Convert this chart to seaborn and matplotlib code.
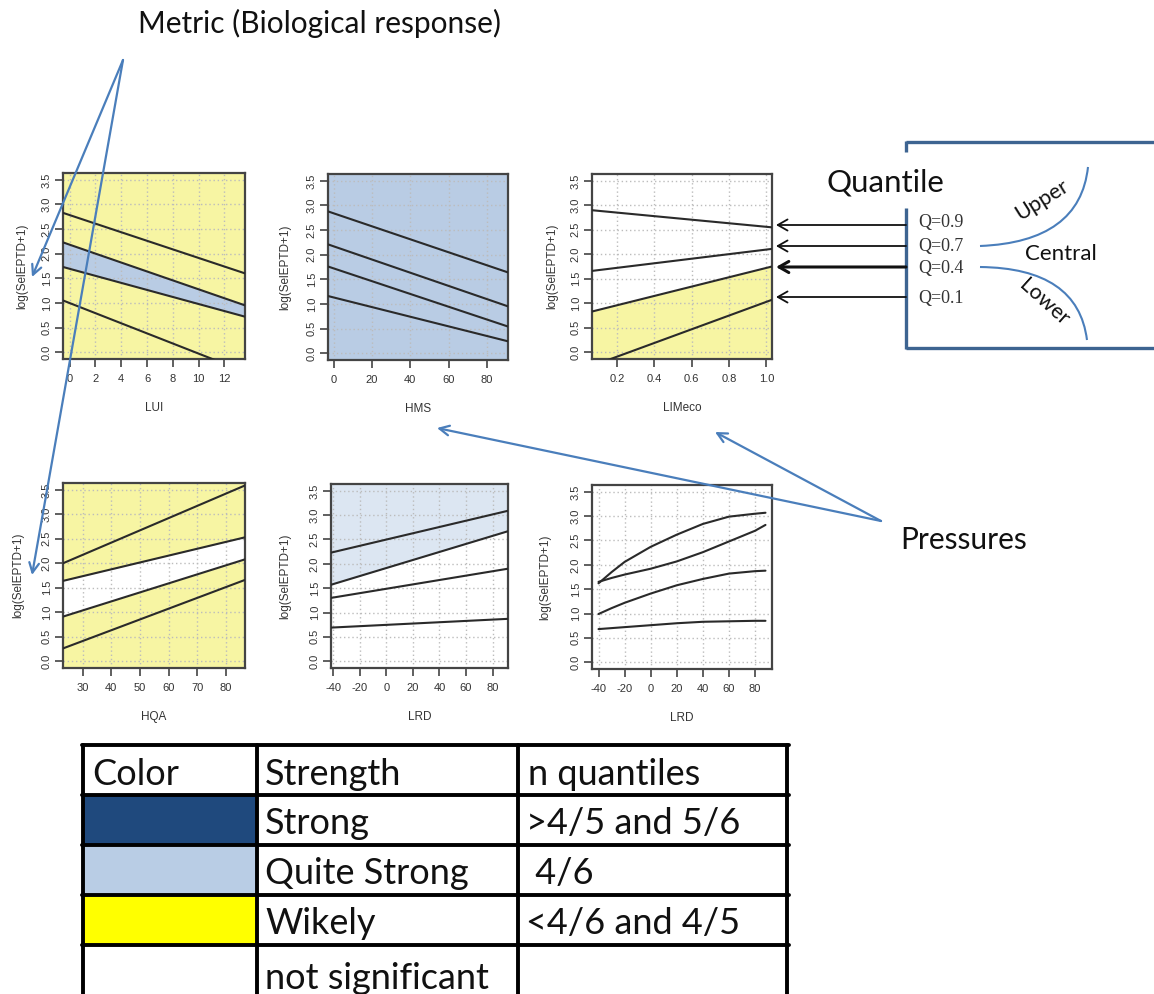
import numpy as np
import pandas as pd
import seaborn as sns
import matplotlib.pyplot as plt
from matplotlib.patches import Rectangle, PathPatch
from matplotlib.path import Path

# quantile regression lines (values read at both ends of each x range)
quantiles = ['Q=0.9', 'Q=0.7', 'Q=0.4', 'Q=0.1']

lui_x = [-0.52, 13.6]
lui_q90 = [2.83, 1.60]
lui_q70 = [2.23, 0.95]
lui_q40 = [1.73, 0.72]
lui_q10 = [1.05, -0.40]

hms_x = [-3, 91]
hms_q90 = [2.88, 1.64]
hms_q70 = [2.21, 0.95]
hms_q40 = [1.76, 0.54]
hms_q10 = [1.16, 0.24]

lim_x = [0.066, 1.03]
lim_q90 = [2.90, 2.55]
lim_q70 = [1.66, 2.11]
lim_q40 = [0.83, 1.75]
lim_q10 = [-0.28, 1.07]

hqa_x = [23.2, 86.6]
hqa_q90 = [2.00, 3.59]
hqa_q70 = [1.64, 2.53]
hqa_q40 = [0.91, 2.08]
hqa_q10 = [0.26, 1.66]

lrd_x = [-41.7, 91.6]
lrd_q90 = [2.23, 3.09]
lrd_q70 = [1.57, 2.67]
lrd_q40 = [1.30, 1.90]
lrd_q10 = [0.69, 0.87]

# non linear fit for LRD (second panel)
lrd2_x = [-40, -30, -20, 0, 20, 40, 60, 80, 88]
lrd2_q90 = [1.62, 1.85, 2.06, 2.37, 2.62, 2.84, 2.99, 3.05, 3.07]
lrd2_q70 = [1.65, 1.73, 1.80, 1.92, 2.07, 2.26, 2.48, 2.70, 2.82]
lrd2_q40 = [0.99, 1.11, 1.22, 1.41, 1.58, 1.71, 1.82, 1.87, 1.88]
lrd2_q10 = [0.68, 0.70, 0.72, 0.76, 0.80, 0.83, 0.84, 0.85, 0.85]

# tabla de colores
table_header = ['Color', 'Strength', 'n quantiles']
strength_labels = ['Strong', 'Quite Strong', 'Wikely', 'not significant']
n_quantiles = ['>4/5 and 5/6', ' 4/6', '<4/6 and 4/5', '']
strength_colors = ['#1f497d', '#b9cde5', '#ffff00', '#ffffff']

YELLOW = '#f7f5a3'
BLUE = '#b9cce4'
LIGHTBLUE = '#dce6f2'
ARROW = '#4a7ebb'

sns.set_style('white')
plt.rcParams['font.family'] = ['Liberation Sans', 'DejaVu Sans']

W, H = 1154, 994
fig = plt.figure(figsize=(W / 100, H / 100), dpi=100)


def px_axes(x0, y0, x1, y1, z=1):
    return fig.add_axes([x0 / W, 1 - y1 / H, (x1 - x0) / W, (y1 - y0) / H], zorder=z)


def long_df(x, series):
    rows = []
    for q, ys in zip(quantiles, series):
        for xi, yi in zip(x, ys):
            rows.append({'x': xi, 'y': yi, 'Quantile': q})
    return pd.DataFrame(rows)


panels = [
    # caja en px, x, series, ticks, etiqueta, offset ylabel
    ((63, 173, 245, 359), lui_x, [lui_q90, lui_q70, lui_q40, lui_q10], np.arange(0, 13, 2), 'LUI', 41),
    ((328, 174, 508, 360), hms_x, [hms_q90, hms_q70, hms_q40, hms_q10], np.arange(0, 81, 20), 'HMS', 43),
    ((592, 174, 772, 359), lim_x, [lim_q90, lim_q70, lim_q40, lim_q10], [0.2, 0.4, 0.6, 0.8, 1.0], 'LIMeco', 40),
    ((63, 483, 245, 668), hqa_x, [hqa_q90, hqa_q70, hqa_q40, hqa_q10], np.arange(30, 81, 10), 'HQA', 45),
    ((331, 484, 508, 668), lrd_x, [lrd_q90, lrd_q70, lrd_q40, lrd_q10], np.arange(-40, 81, 20), 'LRD', 46),
    ((592, 485, 772, 669), lrd2_x, [lrd2_q90, lrd2_q70, lrd2_q40, lrd2_q10], np.arange(-40, 81, 20), 'LRD', 47),
]

axes = []
for box, x, series, xticks, xlabel, yoff in panels:
    ax = px_axes(*box)
    df = long_df(x, series)
    sns.lineplot(data=df, x='x', y='y', hue='Quantile',
                 palette=['#2a2a2a'] * 4, linewidth=1.5,
                 legend=False, ax=ax, zorder=3)
    ax.set_ylim(-0.14, 3.64)
    ax.set_xlim(min(x), max(x))
    ax.set_yticks(np.arange(0, 3.6, 0.5))
    ax.set_yticklabels([f'{t:.1f}' for t in np.arange(0, 3.6, 0.5)], rotation=90, va='center')
    ax.set_xticks(xticks)
    if xlabel == 'LIMeco':
        ax.set_xticklabels([f'{t:.1f}' for t in xticks])
    else:
        ax.set_xticklabels([f'{t:g}' for t in xticks])
    ax.grid(True, linestyle=(0, (1, 2)), color='#bcbcbc', linewidth=1)
    ax.set_axisbelow(True)
    ax.tick_params(axis='both', length=6, width=1.2, color='#444444',
                   labelsize=8, labelcolor='#333333', left=True, bottom=True)
    ax.tick_params(axis='x', pad=5)
    ax.tick_params(axis='y', pad=2)
    for s in ax.spines.values():
        s.set_color('#444444')
        s.set_linewidth(1.6)
    w = box[2] - box[0]
    h = box[3] - box[1]
    ax.set_xlabel(xlabel, fontsize=8.5, color='#333333')
    ax.xaxis.set_label_coords(0.5, -49 / h)
    ax.xaxis.label.set_va('center')
    ax.set_ylabel('log(SelEPTD+1)', fontsize=8.5, color='#333333')
    ax.yaxis.set_label_coords(-yoff / w, 0.5)
    ax.yaxis.label.set_va('center')
    axes.append(ax)

# colores de significancia
axes[0].set_facecolor(YELLOW)
axes[0].fill_between(lui_x, lui_q40, lui_q70, color=BLUE, zorder=0.2, lw=0)
axes[1].set_facecolor(BLUE)
axes[2].fill_between(lim_x, -1, lim_q40, color=YELLOW, zorder=0.2, lw=0)
axes[3].set_facecolor(YELLOW)
axes[3].fill_between(hqa_x, hqa_q40, hqa_q70, color='white', zorder=0.2, lw=0)
axes[4].fill_between(lrd_x, lrd_q70, 5, color=LIGHTBLUE, zorder=0.2, lw=0)
axes[5].set_xlim(-45, 93)

# capa de anotaciones en pixeles
ov = fig.add_axes([0, 0, 1, 1], zorder=10)
ov.set_xlim(0, W)
ov.set_ylim(H, 0)
ov.axis('off')
ov.patch.set_alpha(0)

TXT = ['Lato', 'DejaVu Sans']
ov.text(138, 23, 'Metric (Biological response)', fontsize=21.5, family=TXT,
        ha='left', va='center', color='#111111')

arrow_kw = dict(arrowstyle='->,head_length=0.7,head_width=0.35', color=ARROW, lw=1.6,
                shrinkA=0, shrinkB=0)
for head in [(32, 277), (32, 575)]:
    ov.annotate('', xy=head, xytext=(123, 60), arrowprops=arrow_kw)
for head in [(437, 428), (715, 432)]:
    ov.annotate('', xy=head, xytext=(881, 521), arrowprops=arrow_kw)
ov.text(900, 540, 'Pressures', fontsize=21.5, family=TXT, ha='left', va='center',
        color='#111111')

# caja de cuantiles
BOX = '#3d6491'
ov.plot([906, W], [142, 142], color=BOX, lw=2.4, solid_capstyle='butt')
ov.plot([906, W], [348, 348], color=BOX, lw=2.4, solid_capstyle='butt')
ov.plot([906, 906], [141, 152], color=BOX, lw=2.4, solid_capstyle='butt')
ov.plot([906, 906], [208, 349], color=BOX, lw=2.4, solid_capstyle='butt')
ov.text(827, 182, 'Quantile', fontsize=22.5, family=TXT, ha='left', va='center',
        color='#111111')

q_rows = [225, 246, 267, 297]
q_text = [223, 247, 268, 298]
for i, q in enumerate(quantiles):
    ov.annotate('', xy=(776, q_rows[i]), xytext=(906, q_rows[i]),
                arrowprops=dict(arrowstyle='->,head_length=0.7,head_width=0.4',
                                color='#111111', lw=2.2 if q == 'Q=0.4' else 1.3,
                                shrinkA=0, shrinkB=0))
    ov.text(918, q_text[i], q, fontsize=13, family=['Liberation Serif', 'DejaVu Serif'],
            ha='left', va='center', color='#333333')

for verts in [[(980, 246), (1080, 242), (1088, 167)],
              [(980, 267), (1078, 268), (1087, 340)]]:
    ov.add_patch(PathPatch(Path(verts, [Path.MOVETO, Path.CURVE3, Path.CURVE3]),
                           fill=False, edgecolor=ARROW, lw=1.5))
ov.text(1042, 200, 'Upper', fontsize=15.5, family=TXT, ha='center', va='center',
        rotation=32, color='#111111')
ov.text(1025, 254, 'Central', fontsize=16, family=TXT, ha='left', va='center',
        color='#111111')
ov.text(1044, 302, 'Lower', fontsize=15.5, family=TXT, ha='center', va='center',
        rotation=-42, color='#111111')

# tabla
col_x = [83, 257, 518, 787]
row_y = [745, 795, 845, 895, 945, 1000]
for i, c in enumerate(strength_colors):
    ov.add_patch(Rectangle((col_x[0], row_y[i + 1]), col_x[1] - col_x[0],
                           row_y[i + 2] - row_y[i + 1], color=c, lw=0, zorder=1))
for y in row_y[:-1]:
    ov.plot([col_x[0] - 1.5, col_x[-1] + 1.5], [y, y], color='black', lw=2.8, zorder=2)
for x in col_x:
    ov.plot([x, x], [row_y[0], H], color='black', lw=2.8, zorder=2)

pads = [9, 8, 10]
for j, t in enumerate(table_header):
    ov.text(col_x[j] + pads[j], row_y[1] - 10, t, fontsize=26, family=TXT,
            ha='left', va='baseline', color='#111111')
for i in range(len(strength_labels)):
    ov.text(col_x[1] + 8, row_y[i + 2] - 11, strength_labels[i], fontsize=26,
            family=TXT, ha='left', va='baseline', color='#111111')
    ov.text(col_x[2] + 8, row_y[i + 2] - 11, n_quantiles[i], fontsize=26,
            family=TXT, ha='left', va='baseline', color='#111111')

plt.savefig('out.png', dpi=100)
